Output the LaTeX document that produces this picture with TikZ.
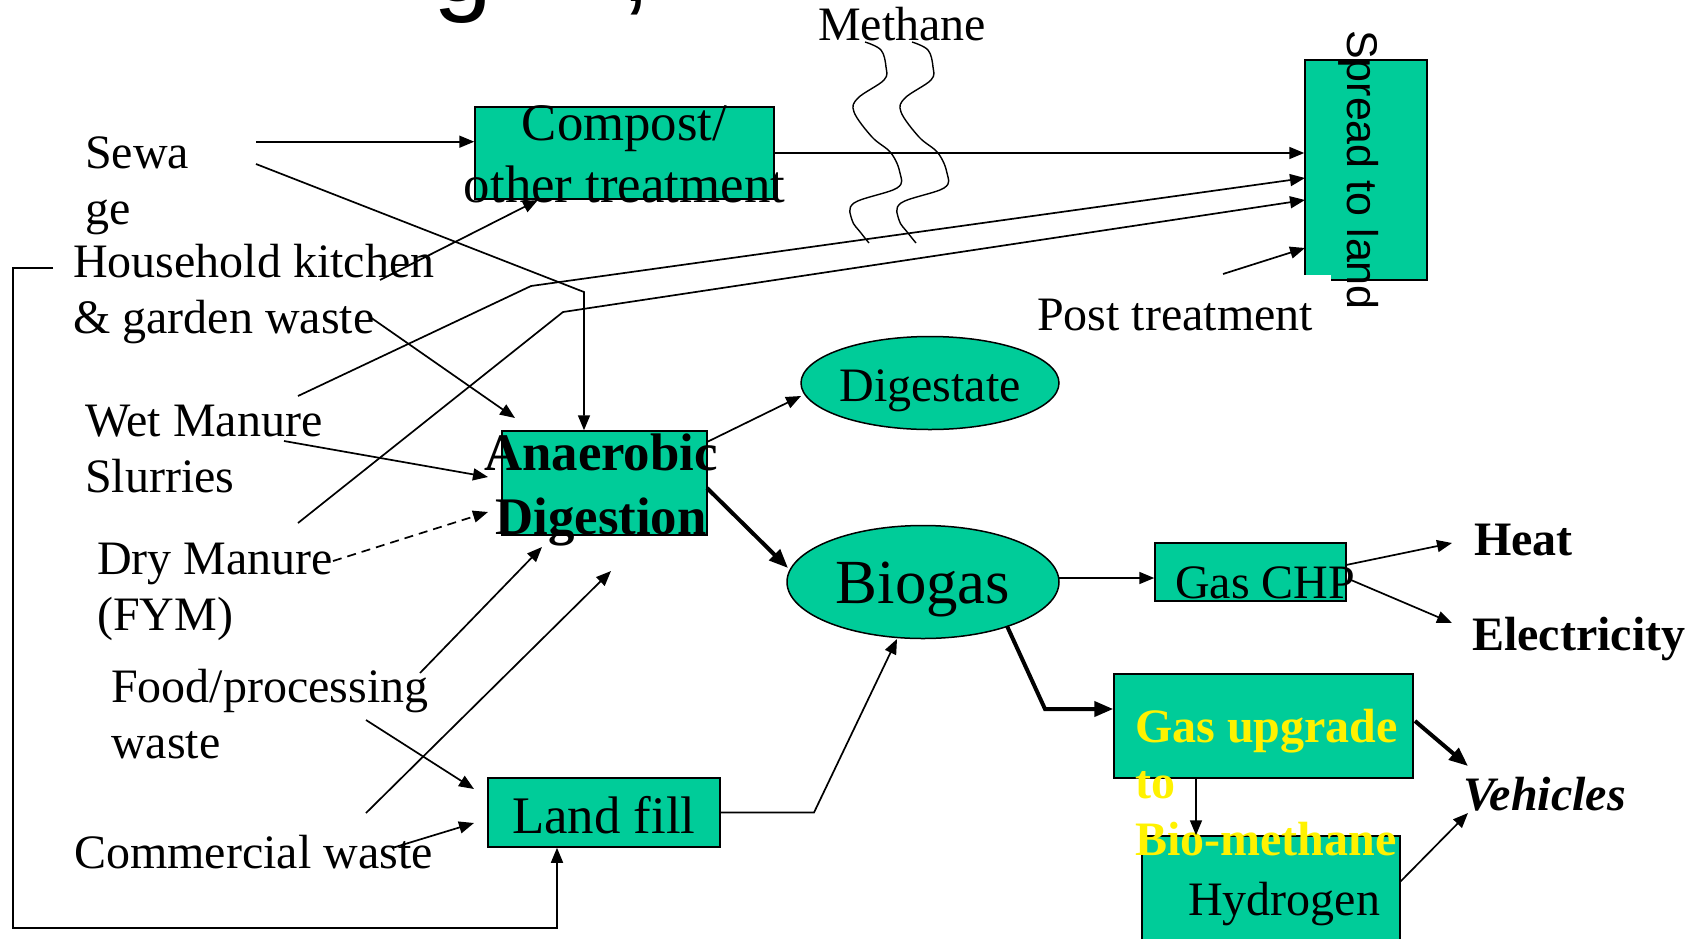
\documentclass[tikz,border=0pt]{standalone}
\usepackage{fontspec}
\setmainfont{Liberation Serif}
\setsansfont{Liberation Sans}
\usetikzlibrary{positioning,arrows.meta,shapes.geometric}
\definecolor{boxgreen}{HTML}{00CC99}
\newcommand{\txtsize}[2]{\fontsize{#1}{#2}\selectfont}

\begin{document}
\begin{tikzpicture}[x=1pt,y=-1pt,every node/.style={inner sep=0pt},
    box/.style={draw=black,line width=1.5pt,fill=boxgreen,rectangle},
    blob/.style={draw=black,line width=1.5pt,fill=boxgreen,ellipse},
    lbl/.style={anchor=base west,align=left,font=\txtsize{48}{56}},
    flow/.style={line width=1.7pt,-{Triangle[length=15pt,width=12pt]}},
    bigflow/.style={line width=4pt,-{Triangle[length=19pt,width=15pt]}},
    plain/.style={line width=1.7pt}]
    \useasboundingbox (0,0) rectangle (1698,938);
    \clip (0,0) rectangle (1698,938);
    %
    % title, cut by the top edge
    \node[anchor=base west,font=\sffamily\txtsize{106}{120}] (titleg) at (433,1) {g};
    \node[anchor=base west,font=\sffamily\txtsize{106}{120}] (titlec) at (621,1) {,};
    %
    % boxes and ellipses
    \node[box,minimum width=299pt,minimum height=92pt] (compost) at (624.5,153) {};
    \node[box,minimum width=122pt,minimum height=220pt] (spread) at (1366,170) {};
    \fill[white] (1304,275) rectangle (1331,283);
    \node[box,minimum width=205pt,minimum height=104pt] (ad) at (604.5,483) {};
    \node[blob,minimum width=258pt,minimum height=93pt] (digestate) at (930,383) {};
    \node[blob,minimum width=272pt,minimum height=113pt] (biogas) at (923,582) {};
    \node[box,minimum width=191pt,minimum height=58pt] (chp) at (1250.5,572) {};
    \node[box,minimum width=232pt,minimum height=69pt] (landfill) at (604,812.5) {};
    \node[box,minimum width=258pt,minimum height=114pt] (hydrogen) at (1271,893) {};
    \node[box,minimum width=299pt,minimum height=104pt] (upgrade) at (1263.5,726) {};
    %
    % texts of the boxes (base = last line)
    \node[anchor=base,align=center,font=\txtsize{52.8}{62}] (composttxt) at (624.5,202) {Compost/\\other treatment};
    \node[rotate=-90,font=\sffamily\txtsize{43}{50}] (spreadtxt) at (1359,170) {Spread to land};
    \node[anchor=base,align=center,font=\bfseries\txtsize{52.8}{64}] (adtxt) at (601,534) {Anaerobic\\Digestion};
    \node[anchor=base,font=\txtsize{48}{56}] (digtxt) at (930,401) {Digestate};
    \node[anchor=base,font=\txtsize{62.8}{70}] (biotxt) at (923,603) {Biogas};
    \node[lbl] (chptxt) at (1175,598) {Gas CHP};
    \node[lbl,font=\txtsize{52.8}{62}] (lftxt) at (512,833) {Land fill};
    \node[lbl] (hydtxt) at (1188,915) {Hydrogen};
    \node[lbl,font=\bfseries\txtsize{48}{56.5},text=yellow] (upgtxt) at (1135,855) {Gas upgrade\\to\\Bio-methane};
    %
    % free texts
    \node[lbl] (sewage) at (85,224) {Sewa\\ge};
    \node[lbl] (household) at (73,333) {Household kitchen\\\& garden waste};
    \node[lbl] (wet) at (85,492) {Wet Manure\\Slurries};
    \node[lbl] (dry) at (97,630) {Dry Manure\\(FYM)};
    \node[lbl] (food) at (111,758) {Food/processing\\waste};
    \node[lbl] (commercial) at (74,868) {Commercial waste};
    \node[lbl] (methane) at (818,40) {Methane};
    \node[lbl] (post) at (1037,330) {Post treatment};
    \node[lbl,font=\bfseries\txtsize{48}{56}] (heat) at (1474,555) {Heat};
    \node[lbl,font=\bfseries\txtsize{48}{56}] (elec) at (1472,650) {Electricity};
    \node[lbl,font=\bfseries\itshape\txtsize{48}{56}] (vehicles) at (1463,810) {Vehicles};
    %
    % loose ends of the connectors
    \coordinate (sewA) at (256,141.7);
    \coordinate (sewB) at (256,164);
    \coordinate (sewK) at (584,292);
    \coordinate (hhA) at (380,280);
    \coordinate (hhAe) at (538,200);
    \coordinate (hhB) at (370,317);
    \coordinate (hhBe) at (515,418);
    \coordinate (hhC) at (53,268);
    \coordinate (hhK) at (13,268);
    \coordinate (hhL) at (13,928);
    \coordinate (hhM) at (557,928);
    \coordinate (wetA) at (298,396);
    \coordinate (wetK) at (531,286);
    \coordinate (wetE) at (1305,178);
    \coordinate (wetB) at (284,441);
    \coordinate (wetBe) at (488,477);
    \coordinate (dryA) at (298,523);
    \coordinate (dryK) at (563,312);
    \coordinate (dryE) at (1305,200);
    \coordinate (dryB) at (333,561);
    \coordinate (dryBe) at (488,512);
    \coordinate (foodA) at (420,673);
    \coordinate (foodAe) at (542,547);
    \coordinate (foodB) at (366,720);
    \coordinate (foodBe) at (474,789);
    \coordinate (comA) at (366,813);
    \coordinate (comAe) at (611,571);
    \coordinate (comB) at (392,848);
    \coordinate (comBe) at (474,823);
    \coordinate (postA) at (1223,274);
    \coordinate (postE) at (1305,248);
    \coordinate (adA) at (707,442);
    \coordinate (adAe) at (801,396);
    \coordinate (adB) at (707,488);
    \coordinate (adBe) at (788,568);
    \coordinate (lfK) at (814,812.5);
    \coordinate (lfE) at (897,639);
    \coordinate (bioA) at (1059,578);
    \coordinate (bioB) at (1007,626);
    \coordinate (bioK) at (1045,709);
    \coordinate (chpA) at (1346,565);
    \coordinate (heatE) at (1452,543);
    \coordinate (chpB) at (1351,580);
    \coordinate (elecE) at (1452,623);
    \coordinate (upA) at (1415,721);
    \coordinate (vehA) at (1468,766);
    \coordinate (upK) at (1196,778);
    \coordinate (hydA) at (1400,882);
    \coordinate (vehB) at (1468,813);
    %
    % connectors
    \draw[flow] (sewA) -- (sewA -| compost.west);
    \draw[flow] (sewB) -- (sewK) -- (sewK |- ad.north);
    \draw[flow] (hhA) -- (hhAe);
    \draw[flow] (hhB) -- (hhBe);
    \draw[flow] (hhC) -- (hhK) -- (hhL) -- (hhM) -- (hhM |- landfill.south);
    \draw[flow] (wetA) -- (wetK) -- (wetE);
    \draw[flow] (dryA) -- (dryK) -- (dryE);
    \draw[flow] (compost.east) -- (compost.east -| spread.west);
    \draw[flow] (postA) -- (postE);
    \draw[flow] (wetB) -- (wetBe);
    \draw[flow,dash pattern=on 9pt off 6pt] (dryB) -- (dryBe);
    \draw[flow] (foodA) -- (foodAe);
    \draw[flow] (comA) -- (comAe);
    \draw[flow] (foodB) -- (foodBe);
    \draw[flow] (comB) -- (comBe);
    \draw[flow] (adA) -- (adAe);
    \draw[bigflow] (adB) -- (adBe);
    \draw[flow] (landfill.east) -- (lfK) -- (lfE);
    \draw[flow] (bioA) -- (bioA -| chp.west);
    \draw[flow] (chpA) -- (heatE);
    \draw[flow] (chpB) -- (elecE);
    \draw[bigflow] (bioB) -- (bioK) -- (bioK -| upgrade.west);
    \draw[bigflow] (upA) -- (vehA);
    \draw[flow] (upK |- upgrade.south) -- (upK |- hydrogen.north);
    \draw[flow] (hydA) -- (vehB);
    %
    % methane rising
    \foreach \dx in {0,47}{
        \draw[plain,line width=1.4pt,xshift=\dx] plot[smooth,tension=0.6] coordinates
            {(865,42) (881,50) (886,67) (884,80) (858,98) (854,112) (872,137)
             (891,153) (900,173) (897,188) (854,203) (852,220) (861,233) (869,243)};
    }
    %
\end{tikzpicture}
\end{document}
